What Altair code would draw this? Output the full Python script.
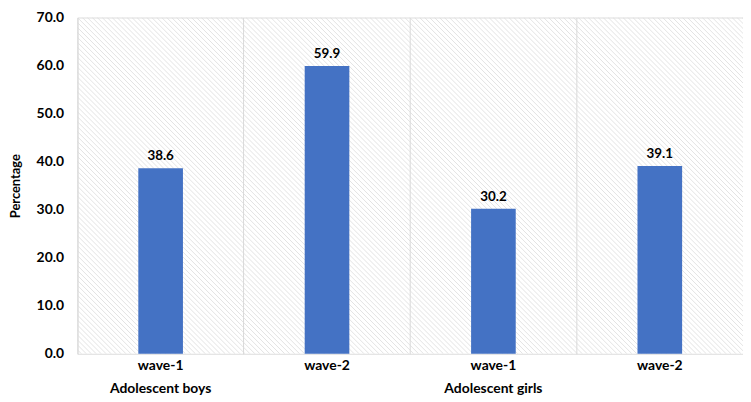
import altair as alt
import pandas as pd

groups = ["Adolescent boys", "Adolescent boys", "Adolescent girls", "Adolescent girls"]
waves = ["wave-1", "wave-2", "wave-1", "wave-2"]
values = [38.6, 59.9, 30.2, 39.1]

df = pd.DataFrame({
    "key": [g + "|" + w for g, w in zip(groups, waves)],
    "group": groups,
    "wave": waves,
    "value": values,
})
order = list(df["key"])

W, H = 671, 339
FONT = "Lato"

# diagonal hatch in the plot background (style only)
hatch = alt.Chart(alt.sequence(-75, 140, as_="i")).transform_calculate(
    x0="datum.i * 5", x1="datum.i * 5 + %d" % H, y0="0", y1=str(H)
).mark_rule(color="#dcdcdc", strokeWidth=0.8, clip=True).encode(
    x=alt.X("x0:Q", scale=alt.Scale(domain=[0, W], nice=False, zero=False), axis=None),
    x2="x1:Q",
    y=alt.Y("y0:Q", scale=alt.Scale(domain=[0, H], reverse=True, nice=False), axis=None),
    y2="y1:Q",
)

xenc = alt.X(
    "key:N",
    sort=order,
    scale=alt.Scale(domain=order, paddingInner=0, paddingOuter=0),
    axis=alt.Axis(
        title=None,
        labelAngle=0,
        domain=False,
        ticks=False,
        grid=True,
        bandPosition=0,
        gridColor="#d9d9d9",
        labelExpr="indexof(datum.value, 'wave-1') >= 0 ? [split(datum.value, '|')[1], split(datum.value, '|')[0]] : split(datum.value, '|')[1]",
        labelFont=FONT,
        labelFontSize=14,
        labelFontWeight="bold",
        labelColor="#000000",
        labelPadding=5,
        labelLineHeight=23,
    ),
)
yenc = alt.Y(
    "value:Q",
    scale=alt.Scale(domain=[0, 70], nice=False),
    axis=alt.Axis(
        title="Percentage",
        values=[0, 10, 20, 30, 40, 50, 60, 70],
        format=".1f",
        domain=False,
        ticks=False,
        gridColor="#d9d9d9",
        labelFont=FONT,
        labelFontSize=14,
        labelFontWeight="bold",
        labelColor="#000000",
        labelPadding=14,
        titleFont=FONT,
        titleFontSize=13,
        titleFontWeight="bold",
        titleColor="#000000",
        titlePadding=14,
    ),
)

base = alt.Chart(df)
bars = base.mark_bar(color="#4472C4", size=45).encode(x=xenc, y=yenc)
labels = base.mark_text(
    dy=-5, baseline="bottom", font=FONT, fontSize=13.5, fontWeight="bold", color="#000000"
).encode(x=alt.X("key:N", sort=order), y="value:Q", text=alt.Text("value:Q", format=".1f"))

chart = alt.layer(hatch, alt.layer(bars, labels)).resolve_scale(
    x="independent", y="independent"
).properties(
    width=W,
    height=H,
    autosize=alt.AutoSizeParams(type="none"),
    padding={"left": 70, "top": 8, "right": 0, "bottom": 48},
).configure_view(stroke="#d9d9d9", strokeWidth=1).configure(background="white")

chart.save("out.html", embed_options={"renderer": "svg", "actions": False})
